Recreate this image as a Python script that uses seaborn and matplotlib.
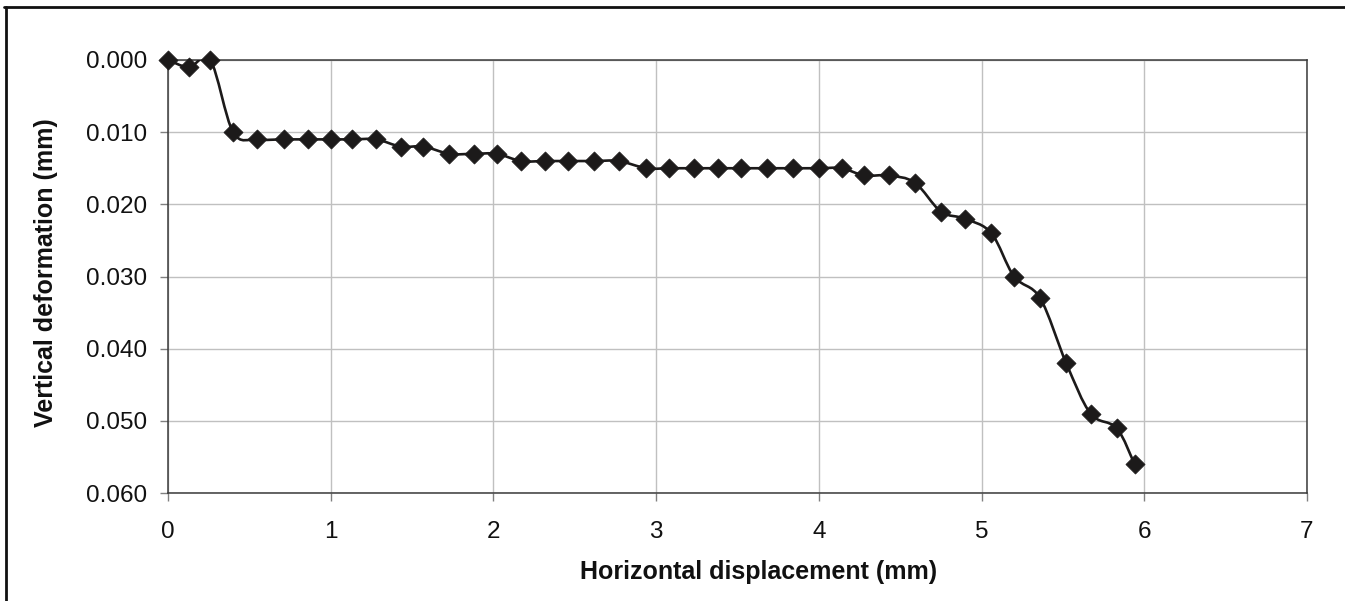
import numpy as np
import matplotlib
matplotlib.use("Agg")
import matplotlib.pyplot as plt
from matplotlib.path import Path
from matplotlib.patches import PathPatch
from matplotlib.lines import Line2D
import seaborn as sns
import pandas as pd

# Data
horizontal_mm = [0.00, 0.13, 0.26, 0.40, 0.545, 0.71, 0.86, 1.00, 1.13, 1.28,
                 1.43, 1.57, 1.73, 1.88, 2.02, 2.17, 2.32, 2.46, 2.62, 2.77,
                 2.94, 3.08, 3.23, 3.38, 3.52, 3.68, 3.84, 4.00, 4.14, 4.28,
                 4.43, 4.59, 4.75, 4.90, 5.06, 5.20, 5.36, 5.52, 5.67, 5.83,
                 5.94]
vertical_mm = [0.000, 0.001, 0.000, 0.010, 0.011, 0.011, 0.011, 0.011, 0.011, 0.011,
               0.012, 0.012, 0.013, 0.013, 0.013, 0.014, 0.014, 0.014, 0.014, 0.014,
               0.015, 0.015, 0.015, 0.015, 0.015, 0.015, 0.015, 0.015, 0.015, 0.016,
               0.016, 0.017, 0.021, 0.022, 0.024, 0.030, 0.033, 0.042, 0.049, 0.051,
               0.056]
x_ticks = [0, 1, 2, 3, 4, 5, 6, 7]
y_ticks = [0.000, 0.010, 0.020, 0.030, 0.040, 0.050, 0.060]
x_label = "Horizontal displacement (mm)"
y_label = "Vertical deformation (mm)"

df = pd.DataFrame({"h": horizontal_mm, "v": vertical_mm})

sns.set_style("white")
plt.rcParams["font.family"] = ["Liberation Sans", "DejaVu Sans"]

fig = plt.figure(figsize=(13.45, 6.01), dpi=100)
ax = fig.add_axes([168 / 1345, 1 - 493 / 601, (1307 - 168) / 1345, (493 - 60) / 601])

line_color = "#1c1a1a"

# Smooth (Excel-style) curve through the points using cubic Bezier segments
pts = df[["h", "v"]].to_numpy()
n = len(pts)
verts = [tuple(pts[0])]
codes = [Path.MOVETO]
for i in range(n - 1):
    p0 = pts[i - 1] if i > 0 else pts[i]
    p1 = pts[i]
    p2 = pts[i + 1]
    p3 = pts[i + 2] if i + 2 < n else pts[i + 1]
    c1 = p1 + (p2 - p0) / 6.0
    c2 = p2 - (p3 - p1) / 6.0
    verts += [tuple(c1), tuple(c2), tuple(p2)]
    codes += [Path.CURVE4, Path.CURVE4, Path.CURVE4]
ax.add_patch(PathPatch(Path(verts, codes), facecolor="none", edgecolor=line_color,
                       lw=1.9, zorder=3, transform=ax.transData))

sns.scatterplot(data=df, x="h", y="v", marker="D", s=95, color=line_color,
                edgecolor=line_color, linewidth=0.5, ax=ax, zorder=4, clip_on=False)

ax.set_xlim(0, 7)
ax.set_ylim(0.060, 0.000)
ax.set_xticks(x_ticks)
ax.set_xticklabels([str(t) for t in x_ticks])
ax.set_yticks(y_ticks)
ax.set_yticklabels([f"{t:.3f}" for t in y_ticks])

ax.grid(True, color="#c0c0c0", lw=1.0)
ax.set_axisbelow(True)
for s in ax.spines.values():
    s.set_color("#3a3a3a")
    s.set_linewidth(1.1)
    s.set_visible(True)

ax.tick_params(axis="both", which="major", direction="out", length=6, width=1,
               color="#808080", labelsize=17.5, labelcolor="#111111",
               left=True, bottom=True)
ax.tick_params(axis="y", pad=9)
ax.tick_params(axis="x", pad=14.5)

ax.set_xlabel(x_label, fontsize=18, fontweight="bold", color="#111111", labelpad=12)
ax.set_ylabel(y_label, fontsize=18, fontweight="bold", color="#111111", labelpad=20)
ax.xaxis.label.set_x((759 - 168) / (1307 - 168))
ax.yaxis.label.set_y(1 - (272.5 - 60) / (493 - 60))

# Outer frame lines (top and left)
fig.add_artist(Line2D([4 / 1345, 1], [1 - 7 / 601, 1 - 7 / 601],
                      transform=fig.transFigure, color="#111111", lw=2.0))
fig.add_artist(Line2D([6 / 1345, 6 / 1345], [0, 1 - 7 / 601],
                      transform=fig.transFigure, color="#111111", lw=2.0))

fig.savefig("out.png", dpi=100)
